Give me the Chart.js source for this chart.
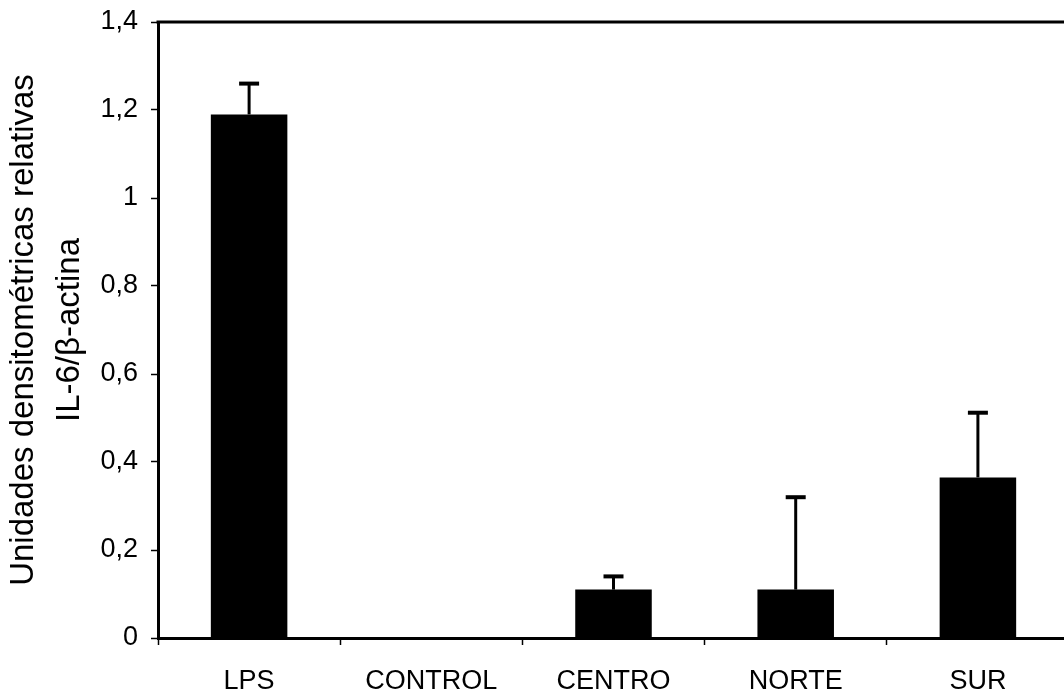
<!DOCTYPE html>
<html>
<head>
<meta charset="utf-8">
<script src="https://cdn.jsdelivr.net/npm/chart.js@4.4.1/dist/chart.umd.min.js"></script>
<style>
  html, body { margin: 0; padding: 0; background: #fff; overflow: hidden; }
  #wrap { width: 1072px; height: 695px; }
</style>
</head>
<body>
<div id="wrap"><canvas id="c" width="1072" height="695"></canvas></div>
<script>
// Groups and relative densitometric units (IL-6 / beta-actin)
const categories = ['LPS', 'CONTROL', 'CENTRO', 'NORTE', 'SUR'];
const meanValues = [1.19, 0, 0.11, 0.11, 0.365];
const upperError = [0.07, 0, 0.03, 0.21, 0.147];
const yTickValues = [0, 0.2, 0.4, 0.6, 0.8, 1, 1.2, 1.4];
const yTitleLines = ['Unidades densitométricas relativas', 'IL-6/β-actina'];

const FONT = "'Liberation Sans', Arial, Helvetica, sans-serif";

// Upward-only error bars with a cap, placed through the chart's scales
const errorBars = {
  id: 'errorBars',
  afterDatasetsDraw(chart) {
    const meta = chart.getDatasetMeta(0);
    const yScale = chart.scales.y;
    const ctx = chart.ctx;
    ctx.save();
    ctx.strokeStyle = '#000';
    meta.data.forEach((bar, i) => {
      const err = upperError[i];
      if (!err) return;
      const yBase = yScale.getPixelForValue(meanValues[i]);
      const yTop = yScale.getPixelForValue(meanValues[i] + err);
      ctx.lineWidth = 3;
      ctx.beginPath();
      ctx.moveTo(bar.x, yBase);
      ctx.lineTo(bar.x, yTop);
      ctx.stroke();
      ctx.lineWidth = 4;
      ctx.beginPath();
      ctx.moveTo(bar.x - 10, yTop);
      ctx.lineTo(bar.x + 10, yTop);
      ctx.stroke();
    });
    ctx.restore();
  }
};

// Top frame line of the plot area
const topFrame = {
  id: 'topFrame',
  afterDraw(chart) {
    const { ctx, chartArea } = chart;
    ctx.save();
    ctx.strokeStyle = '#000';
    ctx.lineWidth = 3;
    ctx.beginPath();
    ctx.moveTo(chartArea.left - 1.5, chartArea.top);
    ctx.lineTo(chartArea.right + 5, chartArea.top);
    ctx.stroke();
    ctx.restore();
  }
};

function fmt(v) {
  return String(Number(v.toFixed(1))).replace('.', ',');
}

new Chart(document.getElementById('c'), {
  type: 'bar',
  data: {
    labels: categories,
    datasets: [{
      data: meanValues,
      backgroundColor: '#000',
      borderWidth: 0,
      categoryPercentage: 1,
      barPercentage: 0.42
    }]
  },
  options: {
    responsive: false,
    animation: false,
    devicePixelRatio: 1,
    layout: { padding: { top: 22, right: 3, left: 0, bottom: 0 } },
    plugins: { legend: { display: false }, tooltip: { enabled: false } },
    scales: {
      x: {
        offset: true,
        afterFit(scale) {
          scale.height = 57;
          scale.paddingLeft = 0;
          scale.paddingRight = 0;
        },
        grid: {
          offset: true,
          drawOnChartArea: false,
          drawTicks: true,
          tickLength: 7,
          tickWidth: 1.5,
          tickColor: '#000'
        },
        border: { display: true, color: '#000', width: 3 },
        ticks: {
          color: '#000',
          padding: 20,
          maxRotation: 0,
          font: { family: FONT, size: 27 }
        }
      },
      y: {
        min: 0,
        max: 1.4,
        afterFit(scale) {
          scale.width = 158;
          scale.paddingTop = 0;
          scale.paddingBottom = 0;
        },
        afterBuildTicks(scale) { scale.ticks = yTickValues.map(v => ({ value: v })); },
        grid: {
          drawOnChartArea: false,
          drawTicks: true,
          tickLength: 7,
          tickWidth: 1.5,
          tickColor: '#000'
        },
        border: { display: true, color: '#000', width: 3 },
        ticks: {
          color: '#000',
          padding: 13,
          callback: (v) => fmt(v),
          font: { family: FONT, size: 27 }
        },
        title: {
          display: true,
          text: yTitleLines,
          color: '#000',
          padding: { top: 0, bottom: 0 },
          font: { family: FONT, size: 33, lineHeight: 1.42 }
        }
      }
    }
  },
  plugins: [errorBars, topFrame]
});
</script>
</body>
</html>
